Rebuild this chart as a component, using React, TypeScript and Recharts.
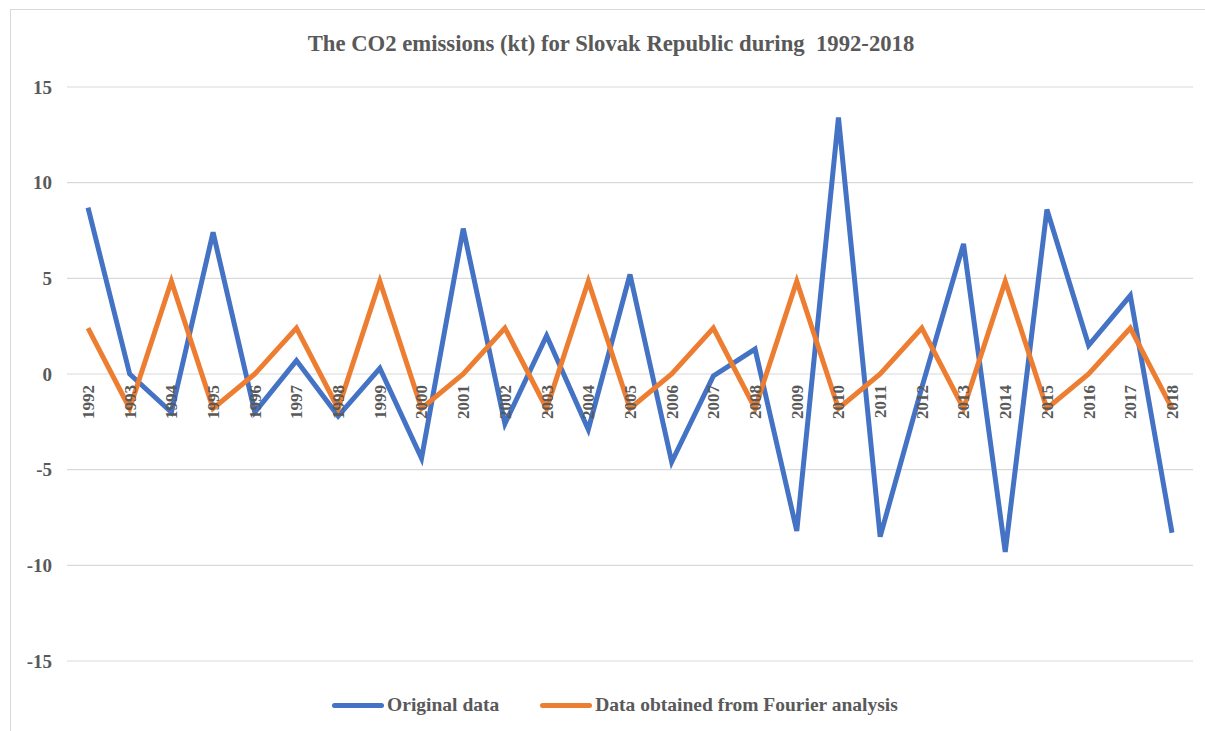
import { LineChart, Line, XAxis, YAxis, CartesianGrid } from 'recharts';

const years = [
  '1992', '1993', '1994', '1995', '1996', '1997', '1998', '1999', '2000',
  '2001', '2002', '2003', '2004', '2005', '2006', '2007', '2008', '2009',
  '2010', '2011', '2012', '2013', '2014', '2015', '2016', '2017', '2018',
];

const originalData = [
  8.7, 0, -2.0, 7.4, -2.0, 0.7, -2.2, 0.3, -4.4,
  7.6, -2.6, 2.0, -2.9, 5.2, -4.6, -0.1, 1.3, -8.2,
  13.4, -8.5, -0.7, 6.8, -9.3, 8.6, 1.5, 4.1, -8.3,
];

const fourierData = [
  2.4, -1.8, 4.85, -1.8, 0, 2.4, -1.8, 4.85, -1.8,
  0, 2.4, -1.8, 4.85, -1.8, 0, 2.4, -1.8, 4.85,
  -1.8, 0, 2.4, -1.8, 4.85, -1.8, 0, 2.4, -1.8,
];

const yTicks = [-15, -10, -5, 0, 5, 10, 15];

const rows = years.map((year, i) => ({
  year,
  original: originalData[i],
  fourier: fourierData[i],
}));

const W = 1205;
const H = 731;
const TOP = 87;
const BOTTOM = 661;
const X_AXIS_H = 30;
const Y_MIN = -15;
const Y_MAX = 15;
// the category labels sit just under the zero line, like Excel's crossing axis
const ZERO_Y = TOP + ((BOTTOM - TOP) * (Y_MAX - 0)) / (Y_MAX - Y_MIN);

const FONT = '"Liberation Serif", "Times New Roman", serif';
const TEXT = '#595959';
const BLUE = '#4472C4';
const ORANGE = '#ED7D31';

function YearTick({ x, payload }: any) {
  const ty = ZERO_Y + 11;
  return (
    <text
      x={x}
      y={ty}
      transform={`rotate(-90 ${x} ${ty})`}
      textAnchor="end"
      dy="0.35em"
      fontFamily={FONT}
      fontSize={17}
      fontWeight="bold"
      fill={TEXT}
    >
      {payload.value}
    </text>
  );
}

function LegendItem({ color, label }: { color: string; label: string }) {
  return (
    <div style={{ display: 'flex', alignItems: 'center' }}>
      <div style={{ width: 52, height: 5, borderRadius: 3, background: color, marginRight: 3 }} />
      <span>{label}</span>
    </div>
  );
}

export default function App() {
  return (
    <div style={{ position: 'absolute', left: 0, top: 0, width: W, height: H, background: '#fff', overflow: 'hidden', fontFamily: FONT }}>
      <div style={{ position: 'absolute', left: 10, top: 9, width: 1300, height: 900, border: '1px solid #d9d9d9' }} />
      <div style={{ position: 'absolute', left: 0, top: 31, width: 1222, textAlign: 'center', fontSize: 22.7, fontWeight: 'bold', color: TEXT, whiteSpace: 'pre' }}>
        {'The CO2 emissions (kt) for Slovak Republic during  1992-2018'}
      </div>
      <div style={{ position: 'absolute', left: 0, top: 0 }}>
        <LineChart width={W} height={H} data={rows} margin={{ top: TOP, right: 12, left: 0, bottom: H - BOTTOM - X_AXIS_H }}>
          <CartesianGrid vertical={false} stroke="#d9d9d9" strokeWidth={1.2} />
          <XAxis
            dataKey="year"
            height={X_AXIS_H}
            interval={0}
            axisLine={false}
            tickLine={false}
            padding={{ left: 21, right: 21 }}
            tick={<YearTick />}
          />
          <YAxis
            width={67}
            domain={[Y_MIN, Y_MAX]}
            ticks={yTicks}
            axisLine={false}
            tickLine={false}
            tickMargin={9}
            tick={{ fontFamily: FONT, fontSize: 19, fontWeight: 'bold', fill: TEXT }}
          />
          <Line type="linear" dataKey="original" stroke={BLUE} strokeWidth={5} dot={false} isAnimationActive={false} strokeLinejoin="miter" />
          <Line type="linear" dataKey="fourier" stroke={ORANGE} strokeWidth={5} dot={false} isAnimationActive={false} strokeLinejoin="miter" />
        </LineChart>
      </div>
      <div style={{ position: 'absolute', left: 0, top: 694, width: 1230, display: 'flex', justifyContent: 'center', gap: 41, fontSize: 19.5, fontWeight: 'bold', color: TEXT }}>
        <LegendItem color={BLUE} label="Original data" />
        <LegendItem color={ORANGE} label="Data obtained from Fourier analysis" />
      </div>
    </div>
  );
}
